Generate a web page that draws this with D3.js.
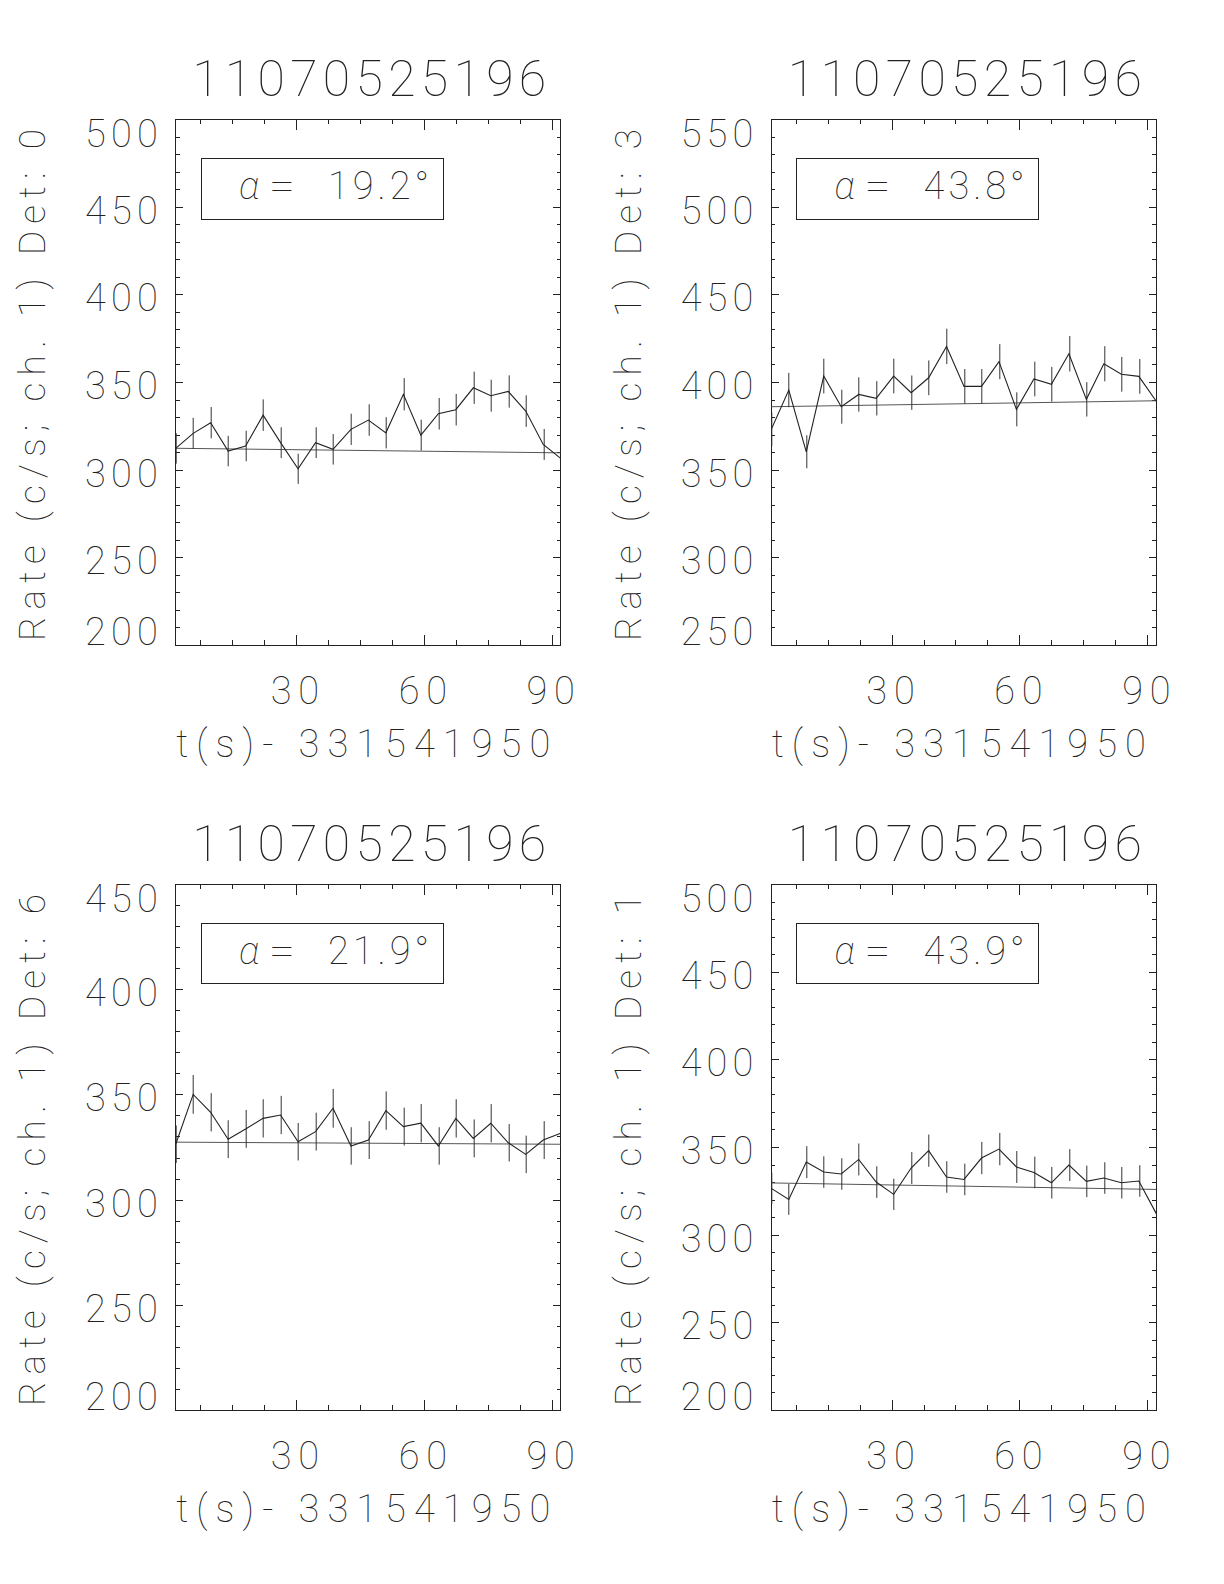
<!DOCTYPE html>
<html><head><meta charset="utf-8">
<script src="https://cdn.jsdelivr.net/npm/d3@7"></script>
<style>
body{margin:0;background:#fff;}
svg text{font-family:Roboto,"DejaVu Sans",sans-serif;font-weight:100;fill:#222;}
</style></head><body>
<svg id="c" width="1224" height="1584"></svg>
<script>
// ---------- data ----------
const times = [1.8, 5.9, 10.0, 14.1, 18.2, 22.3, 26.4, 30.5, 34.6, 38.7, 42.9, 47.0,
               51.1, 55.2, 59.3, 63.4, 67.5, 71.6, 75.7, 79.8, 83.9, 88.0, 92.1];
const xMajorTicks = [30, 60, 90];
const xMinorTicks = [7.5, 15, 22.5, 37.5, 45, 52.5, 67.5, 75, 82.5];
const titles = ["11070525196", "11070525196", "11070525196", "11070525196"];
const detectors = ["0", "3", "6", "1"];
const alphas = ["19.2", "43.8", "21.9", "43.9"];
const xTitle = "t(s)- 331541950";
const yDomains = [[200, 500], [250, 550], [200, 450], [200, 500]];

const rateDet0 = [312.1, 320.7, 326.8, 310.6, 313.5, 331.1, 315.4, 300.5, 315.4, 311.6, 323.0, 328.3,
                  321.0, 343.0, 319.7, 331.9, 334.2, 346.7, 342.2, 344.6, 333.4, 314.4, 306.4];
const errDet0  = [8.7, 8.9, 8.9, 8.7, 8.7, 9.0, 8.8, 8.6, 8.8, 8.7, 8.9, 9.0,
                  8.9, 9.2, 8.8, 9.0, 9.0, 9.2, 9.1, 9.2, 9.0, 8.8, 8.7];
const bgDet0   = [312.2, 309.6];

const rateDet3 = [373.0, 395.4, 360.2, 403.4, 385.9, 392.9, 390.7, 403.4, 393.9, 402.4, 420.3, 397.5,
                  397.5, 411.6, 384.4, 401.7, 398.7, 416.1, 390.1, 410.4, 404.4, 403.2, 389.0];
const errDet3  = [9.5, 9.8, 9.4, 9.9, 9.7, 9.8, 9.8, 9.9, 9.8, 9.9, 10.1, 9.9,
                  9.9, 10.0, 9.7, 9.9, 9.9, 10.1, 9.8, 10.0, 9.9, 9.9, 9.7];
const bgDet3   = [385.9, 389.3];

const rateDet6 = [326.3, 350.0, 341.5, 328.7, 333.6, 338.6, 340.2, 327.5, 332.3, 343.4, 325.5, 328.3,
                  342.3, 334.7, 336.3, 325.5, 338.6, 329.1, 336.3, 327.0, 321.5, 328.3, 331.5];
const errDet6  = [8.9, 9.2, 9.1, 9.0, 9.0, 9.1, 9.1, 8.9, 9.0, 9.2, 8.9, 9.0,
                  9.1, 9.0, 9.1, 8.9, 9.1, 9.0, 9.1, 8.9, 8.9, 9.0, 9.0];
const bgDet6   = [327.3, 326.3];

const rateDet1 = [326.4, 320.1, 341.4, 335.7, 334.6, 342.9, 330.0, 323.0, 338.0, 347.9, 332.9, 331.5,
                  343.7, 348.8, 338.6, 335.5, 329.6, 339.7, 330.4, 332.3, 329.6, 330.6, 312.0];
const errDet1  = [8.9, 8.8, 9.1, 9.0, 9.0, 9.1, 9.0, 8.9, 9.1, 9.2, 9.0, 9.0,
                  9.2, 9.2, 9.1, 9.0, 9.0, 9.1, 9.0, 9.0, 9.0, 9.0, 8.7];
const bgDet1   = [329.5, 325.8];

const rates = [rateDet0, rateDet3, rateDet6, rateDet1];
const errors = [errDet0, errDet3, errDet6, errDet1];
const bgs = [bgDet0, bgDet3, bgDet6, bgDet1];

// ---------- layout ----------
const W = 385, H = 526;
const origins = [[175.7, 119], [771.3, 119], [175.7, 884], [771.3, 884]];
const INK = "#222";

const svg = d3.select("#c");
svg.append("rect").attr("width", 1224).attr("height", 1584).attr("fill", "#fff");

origins.forEach((o, i) => {
  const [ox, oy] = o;
  const g = svg.append("g").attr("transform", `translate(${ox},${oy})`);
  const x = d3.scaleLinear().domain([times[0], times[times.length - 1]]).range([0, W]);
  const y = d3.scaleLinear().domain(yDomains[i]).range([H, 0]);
  const yMajor = d3.range(yDomains[i][0], yDomains[i][1] + 1, 50);
  const yMinor = d3.range(yDomains[i][0], yDomains[i][1] + 1, 10).filter(v => v % 50 !== 0);

  const clipId = "clip" + i;
  g.append("clipPath").attr("id", clipId).append("rect").attr("width", W).attr("height", H);

  // axes with inward ticks on all four sides
  const axG = g.append("g").attr("stroke-width", 1);
  const mk = (axisFn, scale, vals, len, tr) => {
    const a = axG.append("g").attr("transform", tr)
      .call(axisFn(scale).tickValues(vals).tickSize(-len).tickSizeOuter(0).tickFormat(""));
    a.selectAll("path,line").attr("stroke", INK).attr("shape-rendering", "crispEdges");
    a.select(".domain").remove();
  };
  mk(d3.axisBottom, x, xMajorTicks, 10.5, `translate(0,${H})`);
  mk(d3.axisBottom, x, xMinorTicks, 5.2, `translate(0,${H})`);
  mk(d3.axisTop, x, xMajorTicks, 10.5, `translate(0,0)`);
  mk(d3.axisTop, x, xMinorTicks, 5.2, `translate(0,0)`);
  mk(d3.axisLeft, y, yMajor, 7.7, `translate(0,0)`);
  mk(d3.axisLeft, y, yMinor, 3.9, `translate(0,0)`);
  mk(d3.axisRight, y, yMajor, 7.7, `translate(${W},0)`);
  mk(d3.axisRight, y, yMinor, 3.9, `translate(${W},0)`);

  g.append("rect").attr("x", 0).attr("y", 0).attr("width", W).attr("height", H)
    .attr("fill", "none").attr("stroke", INK).attr("stroke-width", 1).attr("shape-rendering", "crispEdges");

  // y tick labels
  g.selectAll("text.yl").data(yMajor).join("text").attr("class", "yl")
    .attr("x", -18).attr("y", d => Math.max(28, Math.min(H, y(d) + 17)))
    .attr("text-anchor", "end").attr("font-size", 38)
    .attr("textLength", d => String(d).length * 24.2).attr("lengthAdjust", "spacing")
    .text(d => d);

  // x tick labels
  g.selectAll("text.xl").data(xMajorTicks).join("text").attr("class", "xl")
    .attr("x", d => x(d) - 1).attr("y", H + 58.5)
    .attr("text-anchor", "middle").attr("font-size", 38)
    .attr("textLength", d => String(d).length * 24.2).attr("lengthAdjust", "spacing")
    .text(d => d);

  // x title
  g.append("text").attr("x", W / 2 - 5).attr("y", H + 111.7).attr("text-anchor", "middle")
    .attr("font-size", 38).attr("textLength", 374).attr("lengthAdjust", "spacing").text(xTitle);

  // panel title
  g.append("text").attr("x", W / 2 + 1).attr("y", -23).attr("text-anchor", "middle")
    .attr("font-size", 50).attr("textLength", 354).attr("lengthAdjust", "spacing").text(titles[i]);

  // y title
  g.append("text").attr("transform", `translate(-130.7,${H / 2 + 3}) rotate(-90)`)
    .attr("text-anchor", "middle").attr("font-size", 37)
    .attr("textLength", 512).attr("lengthAdjust", "spacing")
    .text("Rate (c/s; ch. 1) Det: " + detectors[i]);

  // alpha box
  const ab = g.append("g").attr("transform", "translate(25.3,39.3)");
  ab.append("rect").attr("width", 242).attr("height", 60.7).attr("fill", "none")
    .attr("stroke", INK).attr("stroke-width", 1).attr("shape-rendering", "crispEdges");
  ab.append("text").attr("x", 38).attr("y", 41).attr("font-size", 38).attr("font-style", "italic").text("α");
  ab.append("text").attr("x", 68).attr("y", 41).attr("font-size", 38)
    .attr("textLength", 26).attr("lengthAdjust", "spacingAndGlyphs").text("=");
  ab.append("text").attr("x", 127).attr("y", 41).attr("font-size", 38)
    .attr("textLength", 101).attr("lengthAdjust", "spacing").text(alphas[i] + "°");

  // data
  const dg = g.append("g").attr("clip-path", `url(#${clipId})`);
  const pts = times.map((t, k) => ({ t, v: rates[i][k], e: errors[i][k] }));
  dg.append("line")
    .attr("x1", x(times[0])).attr("x2", x(times[times.length - 1]))
    .attr("y1", y(bgs[i][0])).attr("y2", y(bgs[i][1]))
    .attr("stroke", "#555").attr("stroke-width", 1);
  dg.selectAll("line.err").data(pts).join("line").attr("class", "err")
    .attr("x1", d => Math.round(x(d.t)) + 0.5).attr("x2", d => Math.round(x(d.t)) + 0.5)
    .attr("y1", d => y(d.v - d.e)).attr("y2", d => y(d.v + d.e))
    .attr("stroke", "#333").attr("stroke-width", 1);
  dg.append("path").datum(pts)
    .attr("d", d3.line().x(d => x(d.t)).y(d => y(d.v)))
    .attr("fill", "none").attr("stroke", "#222").attr("stroke-width", 1.1);
});
</script>
</body></html>
